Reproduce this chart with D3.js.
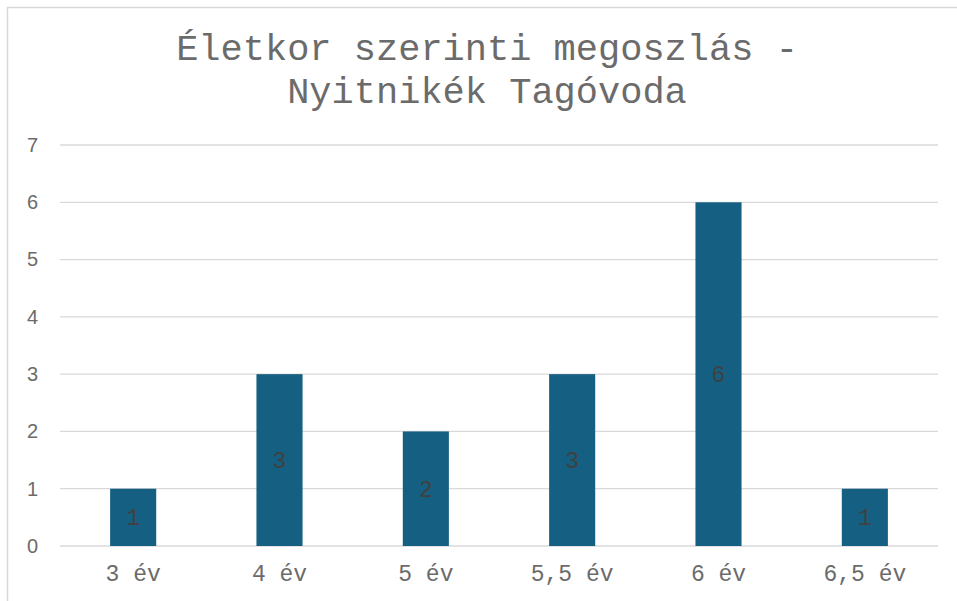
<!DOCTYPE html>
<html>
<head>
<meta charset="utf-8">
<script src="https://cdn.jsdelivr.net/npm/d3@7"></script>
<style>
  body { margin: 0; background: #fff; }
</style>
</head>
<body>
<div id="chart"></div>
<script>
// data
const categories = ["3 év", "4 év", "5 év", "5,5 év", "6 év", "6,5 év"]
const counts = [1, 3, 2, 3, 6, 1]
const yTicks = [0, 1, 2, 3, 4, 5, 6, 7]
const titleLines = ["Életkor szerinti megoszlás -", "Nyitnikék Tagóvoda"]

const width = 957, height = 601
const plot = {left: 60, right: 938, top: 145, bottom: 546}

let svg = d3.select("#chart")
    .append("svg")
    .attr("width", width)
    .attr("height", height)

// chart area border (only top / left visible)
svg.append("rect")
    .attr("x", 7.5).attr("y", 7.5)
    .attr("width", width).attr("height", height)
    .attr("fill", "none")
    .attr("stroke", "#d9d9d9")
    .attr("stroke-width", 1.5)

let x = d3.scaleBand()
    .domain(categories)
    .range([plot.left, plot.right])
    .paddingInner(0.685)
    .paddingOuter(0.3425)

let y = d3.scaleLinear()
    .domain([0, 7])
    .range([plot.bottom, plot.top])

// title
svg.append("text")
    .attr("text-anchor", "middle")
    .attr("font-family", "'Liberation Mono', 'Courier New', monospace")
    .attr("font-size", 37)
    .attr("fill", "#6b6b6b")
    .selectAll("tspan")
    .data(titleLines)
    .enter()
    .append("tspan")
    .attr("x", 487)
    .attr("y", (d, i) => 60 + i * 43)
    .text(d => d)

// gridlines
svg.append("g")
    .selectAll("line")
    .data(yTicks)
    .enter()
    .append("line")
    .attr("x1", plot.left)
    .attr("x2", plot.right)
    .attr("y1", d => y(d))
    .attr("y2", d => y(d))
    .attr("stroke", "#d9d9d9")
    .attr("stroke-width", 1.3)

// y axis labels
let yAxis = svg.append("g")
    .attr("transform", `translate(38, 0)`)
    .call(d3.axisLeft(y).tickValues(yTicks).tickFormat(d3.format("d")).tickSize(0).tickPadding(0))
yAxis.select(".domain").remove()
yAxis.selectAll("text")
    .attr("font-family", "'Liberation Sans', Arial, sans-serif")
    .attr("font-size", 20)
    .attr("fill", "#6b6b6b")

// bars
svg.append("g")
    .selectAll("rect")
    .data(counts)
    .enter()
    .append("rect")
    .attr("x", (d, i) => x(categories[i]))
    .attr("y", d => y(d))
    .attr("width", x.bandwidth())
    .attr("height", d => y(0) - y(d))
    .attr("fill", "#156082")

// data labels in the middle of each bar
svg.append("g")
    .selectAll("text")
    .data(counts)
    .enter()
    .append("text")
    .attr("x", (d, i) => x(categories[i]) + x.bandwidth() / 2)
    .attr("y", d => (y(d) + y(0)) / 2)
    .attr("dy", "0.35em")
    .attr("text-anchor", "middle")
    .attr("font-family", "'Liberation Mono', 'Courier New', monospace")
    .attr("font-size", 23)
    .attr("fill", "#404040")
    .text(d => d)

// x axis labels
let xAxis = svg.append("g")
    .attr("transform", `translate(0, ${plot.bottom})`)
    .call(d3.axisBottom(x).tickSize(0).tickPadding(0))
xAxis.select(".domain").remove()
xAxis.selectAll("text")
    .attr("dy", null)
    .attr("y", 35)
    .attr("font-family", "'Liberation Mono', 'Courier New', monospace")
    .attr("font-size", 23)
    .attr("fill", "#6b6b6b")
</script>
</body>
</html>
